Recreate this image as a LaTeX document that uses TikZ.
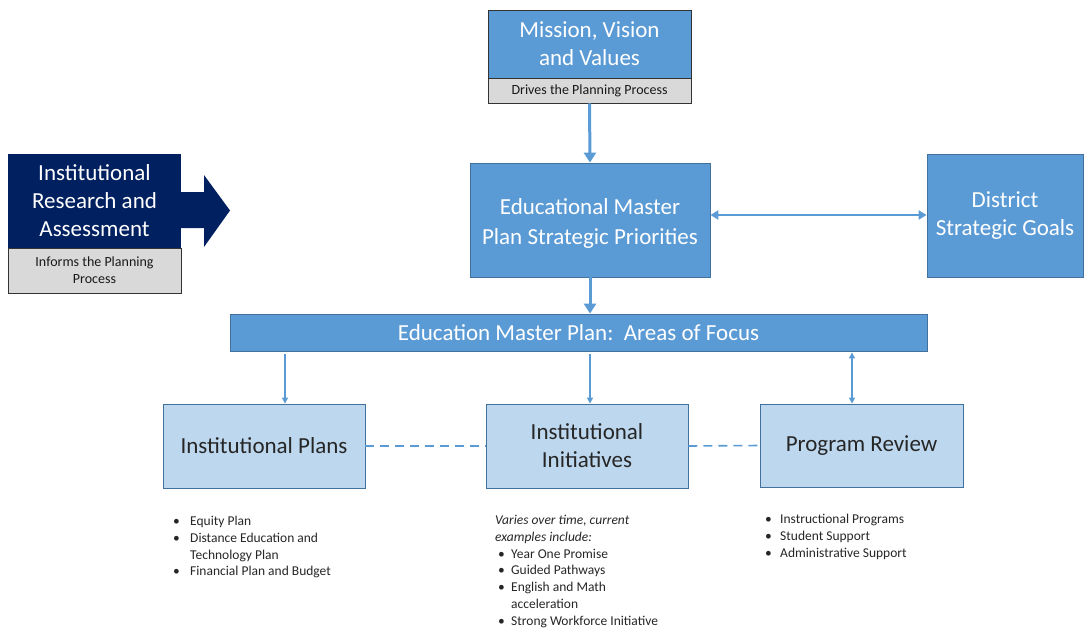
\documentclass[tikz,border=0pt]{standalone}
\usepackage{fontspec}
\setmainfont{Carlito}
\usetikzlibrary{arrows.meta}
\definecolor{mblue}{HTML}{5B9BD5}
\definecolor{mborder}{HTML}{41719C}
\definecolor{lblue}{HTML}{BDD7EE}
\definecolor{navy}{HTML}{002060}
\definecolor{lgray}{HTML}{D9D9D9}
\definecolor{dtext}{HTML}{262626}
\newcommand{\mybul}[1]{\makebox[#1][l]{\hspace{3pt}\textbullet}}
\newcommand{\myind}[1]{\makebox[#1]{}}
\begin{document}
\begin{tikzpicture}[x=1pt,y=-1pt,
  basebox/.style={rectangle, inner sep=0pt, align=center},
  bluebox/.style={basebox, fill=mblue, draw=mborder, line width=0.8pt, text=white, font=\fontsize{23}{28}\selectfont},
  lightbox/.style={basebox, fill=lblue, draw=mborder, line width=0.8pt, text=dtext, font=\fontsize{23}{28}\selectfont},
  graystrip/.style={basebox, fill=lgray, draw=black!80, line width=0.8pt, text=black!90, font=\fontsize{14}{17}\selectfont},
  bigarrow/.style={draw=mblue, line width=3pt, -{Triangle[length=10pt,width=12pt]}},
  midarrow/.style={draw=mblue, line width=2pt, {Triangle[length=8pt,width=9pt]}-{Triangle[length=8pt,width=9pt]}},
  thinarrow/.style={draw=mblue, line width=1.2pt, -{Triangle[length=6pt,width=6pt]}},
  thindbl/.style={draw=mblue, line width=1.2pt, {Triangle[length=6pt,width=6pt]}-{Triangle[length=6pt,width=6pt]}},
  dashline/.style={draw=mblue, line width=1.6pt, dash pattern=on 9pt off 6pt},
  listtext/.style={inner sep=0pt, align=left, anchor=north west, text=dtext, font=\fontsize{13.5}{16.8}\selectfont}
]
\useasboundingbox (0,0) rectangle (1084,629);

% Mission
\node[bluebox, draw=black!80, minimum width=203pt, minimum height=68pt] (mission) at (589.5,44) {Mission, Vision\\and Values};
\node[graystrip, minimum width=203pt, minimum height=25pt] (drives) at (589.5,90.5) {Drives the Planning Process};

% EMP strategic priorities
\node[bluebox, font=\fontsize{23}{30}\selectfont, minimum width=240pt, minimum height=114pt, text depth=0pt] (emps) at (590,220) {\raisebox{-3pt}{Educational Master}\\\raisebox{-3pt}{Plan Strategic Priorities}};

% District
\node[bluebox, minimum width=156pt, minimum height=123pt] (district) at (1005,215.5) {\raisebox{-2pt}{District}\\\raisebox{-2pt}{Strategic Goals}};

% Institutional research
\fill[navy] (181,192) -- (204,192) -- (204,175) -- (230,210.5) -- (204,247) -- (204,228) -- (181,228) -- cycle;
\node[basebox, fill=navy, text=white, font=\fontsize{23}{28}\selectfont, minimum width=173pt, minimum height=94pt] (ira) at (94.5,201) {Institutional\\Research and\\Assessment};
\node[graystrip, minimum width=173pt, minimum height=45pt] (informs) at (94.5,270.5) {Informs the Planning\\Process};

% Areas of focus bar
\node[bluebox, minimum width=697pt, minimum height=37pt] (bar) at (578.5,332.5) {Education Master Plan:\ \ Areas of Focus};

% Bottom boxes
\node[lightbox, minimum width=202pt, minimum height=84pt] (ip) at (264,446) {Institutional Plans};
\node[lightbox, minimum width=202pt, minimum height=84pt] (ii) at (587,446) {Institutional\\Initiatives};
\node[lightbox, minimum width=203pt, minimum height=83pt] (pr) at (861.5,445.5) {Program Review};

% Connectors
\draw[bigarrow] (drives.south) -- (emps.north);
\draw[bigarrow] (emps.south) -- (bar.north -| emps.south);
\draw[midarrow] ([yshift=5pt]emps.east) -- ([yshift=5pt]emps.east -| district.west);
\draw[thinarrow] ([xshift=21pt,yshift=-3pt]ip.north |- bar.south) -- ([xshift=21pt]ip.north);
\draw[thinarrow] ([xshift=3pt,yshift=-3pt]ii.north |- bar.south) -- ([xshift=3pt]ii.north);
\draw[thindbl] ([xshift=-9.5pt,yshift=-1pt]pr.north |- bar.south) -- ([xshift=-9.5pt]pr.north);
\draw[dashline] (ip.east) -- (ii.west);
\draw[dashline] (ii.east) -- (pr.west);

% Lists
\node[listtext] (l1) at (170,516) {\mybul{20pt}Equity Plan\\\mybul{20pt}Distance Education and\\\myind{20pt}Technology Plan\\\mybul{20pt}Financial Plan and Budget};
\node[listtext] (l2) at (495,515) {\textit{Varies over time, current}\\\textit{examples include:}\\\mybul{16pt}Year One Promise\\\mybul{16pt}Guided Pathways\\\mybul{16pt}English and Math\\\myind{16pt}acceleration\\\mybul{16pt}Strong Workforce Initiative};
\node[listtext] (l3) at (762,514) {\mybul{18pt}Instructional Programs\\\mybul{18pt}Student Support\\\mybul{18pt}Administrative Support};
\end{tikzpicture}
\end{document}
